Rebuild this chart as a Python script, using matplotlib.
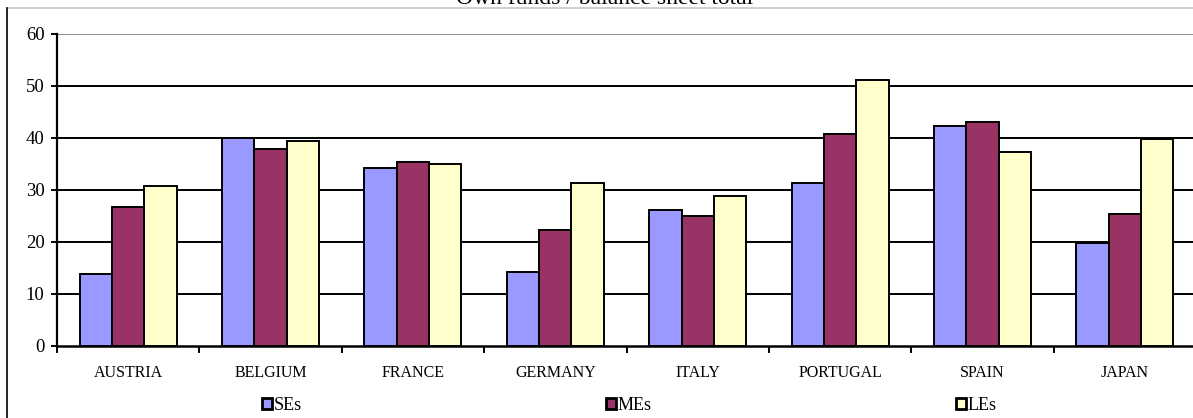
import numpy as np
import matplotlib
matplotlib.use("Agg")
import matplotlib.pyplot as plt
from matplotlib.lines import Line2D

countries = ["AUSTRIA", "BELGIUM", "FRANCE", "GERMANY", "ITALY", "PORTUGAL", "SPAIN", "JAPAN"]
se_values = [13.8, 40.0, 34.2, 14.2, 26.1, 31.4, 42.3, 19.9]
me_values = [26.8, 37.9, 35.3, 22.4, 25.0, 40.7, 43.0, 25.3]
le_values = [30.7, 39.5, 35.0, 31.4, 28.8, 51.2, 37.3, 39.8]
series_names = ["SEs", "MEs", "LEs"]
series_colors = ["#9999ff", "#993366", "#ffffcc"]
y_ticks = [0, 10, 20, 30, 40, 50, 60]

W, H = 1193, 418
plt.rcParams["font.family"] = ["Liberation Serif", "DejaVu Serif"]

fig = plt.figure(figsize=(W / 100, H / 100), dpi=100)

# plot area in pixels: left spine at 57, zero line at 346, top line at 34
left, right = 57, 1196
bottom, top = 346, 34
ax = fig.add_axes([left / W, 1 - bottom / H, (right - left) / W, (bottom - top) / H])

x = np.arange(len(countries))
bar_w = 0.227
for i, (vals, name, color) in enumerate(zip([se_values, me_values, le_values],
                                            series_names, series_colors)):
    ax.bar(x + (i - 1) * bar_w + 0.5, vals, width=bar_w, color=color,
           edgecolor="black", linewidth=1.4, label=name, zorder=3)

ax.set_xlim(0, len(countries))
ax.set_ylim(0, 60)
ax.set_yticks(y_ticks)
ax.set_yticklabels([str(t) for t in y_ticks], fontsize=13.5)
ax.set_xticks(np.arange(len(countries) + 1))
ax.set_xticklabels([])
ax.set_xticks(x + 0.5, minor=True)
ax.set_xticklabels(countries, minor=True, fontsize=11.5)
ax.tick_params(axis="x", which="minor", length=0, pad=14)
ax.tick_params(axis="x", which="major", direction="out", length=5, width=1.4)
ax.tick_params(axis="y", direction="out", length=4, width=1.4, pad=5)

for t in y_ticks[1:]:
    ax.axhline(t, color="#8a8a8a" if t == 60 else "black", linewidth=1.4, zorder=1)

for side in ("top", "right"):
    ax.spines[side].set_visible(False)
ax.spines["left"].set_linewidth(1.6)
ax.spines["bottom"].set_linewidth(1.8)

leg = fig.legend(loc="center", bbox_to_anchor=(0.5275, 1 - 405 / H), ncol=3,
                 frameon=False, fontsize=13, handlelength=0.55, handleheight=0.55,
                 handletextpad=0.12, columnspacing=16.83, borderpad=0)
for patch in leg.get_patches():
    patch.set_linewidth(2)

# chart frame, partly cut off at the edges
fig.add_artist(Line2D([7 / W, 1], [1 - 8 / H, 1 - 8 / H], color="#c8c8c8", linewidth=1.2))
fig.add_artist(Line2D([7 / W, 7 / W], [0, 1 - 8 / H], color="black", linewidth=1.2))

fig.text(605 / W, 1 - 4 / H, "Own funds / balance sheet total", ha="center",
         va="baseline", fontsize=17)

fig.savefig("out.png", dpi=100)
